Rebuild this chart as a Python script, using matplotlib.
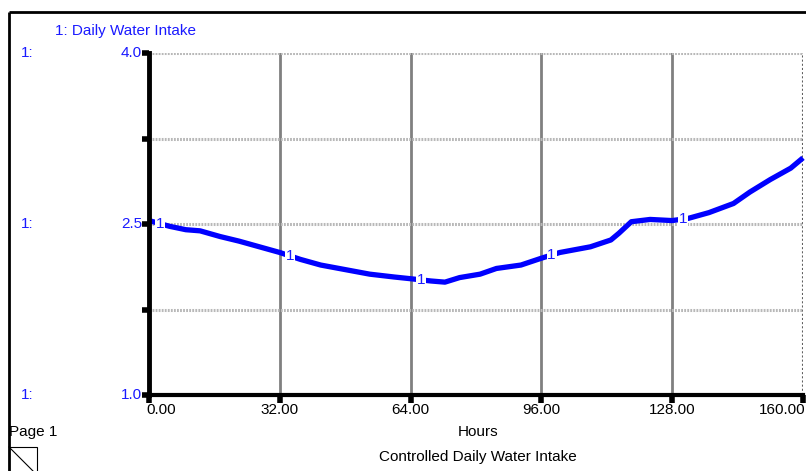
import matplotlib
matplotlib.use("Agg")
import matplotlib.pyplot as plt
from matplotlib.patches import Rectangle
import numpy as np

plt.rcParams['font.family'] = ['Liberation Sans', 'DejaVu Sans']

# ---- data ----
hours = [0, 5, 9, 12.5, 17.4, 22, 26, 32, 37, 42, 48, 54, 60, 64, 69, 72.4, 76, 81, 85,
         91, 96, 100.5, 108, 113, 115, 118, 122.6, 128, 132, 137, 143, 147, 152, 157, 160]
intake = [2.53, 2.48, 2.45, 2.44, 2.39, 2.35, 2.31, 2.25, 2.19, 2.14, 2.10, 2.06, 2.035, 2.02,
          2.00, 1.99, 2.03, 2.06, 2.11, 2.14, 2.20, 2.25, 2.30, 2.36, 2.42, 2.52, 2.54, 2.53,
          2.55, 2.60, 2.68, 2.78, 2.89, 2.99, 3.08]
label_hours = [2.7, 34.5, 66.5, 98.5, 130.6]
x_ticks = [0, 32, 64, 96, 128, 160]
x_tick_labels = ["0.00", "32.00", "64.00", "96.00", "128.00", "160.00"]
y_ticks = [1.0, 1.75, 2.5, 3.25, 4.0]
y_labels = {4.0: "4.0", 2.5: "2.5", 1.0: "1.0"}
series_name = "1: Daily Water Intake"
x_title = "Hours"
chart_title = "Controlled Daily Water Intake"

W, H = 806, 471
fig = plt.figure(figsize=(W / 100, H / 100), dpi=100)

def fx(px):
    return px / W

def fy(py):
    return 1 - py / H

blue = '#1a1aff'
lineblue = '#0000ff'
FS = 11

# outer frame
frame = fig.add_axes([0, 0, 1, 1])
frame.set_xlim(0, W)
frame.set_ylim(H, 0)
frame.axis('off')
frame.plot([9, 9], [12, H + 5], color='black', lw=2, solid_capstyle='butt')
frame.plot([9, W + 5], [12, 12], color='black', lw=2, solid_capstyle='butt')
# small icon
frame.add_patch(Rectangle((9, 447), 28, 28, fill=False, edgecolor='black', lw=0.8))
frame.plot([9, 37], [447, 475], color='black', lw=0.8)

# main axes
L, R, T, B = 149, 803, 53, 395
ax = fig.add_axes([fx(L), fy(B), fx(R) - fx(L), fy(T) - fy(B)])
ax.set_xlim(0, 160)
ax.set_ylim(1.0, 4.0)
for s in ['top', 'right']:
    ax.spines[s].set_visible(False)
ax.spines['left'].set_linewidth(3.5)
ax.spines['bottom'].set_linewidth(3)
ax.spines['left'].set_zorder(5)
ax.spines['bottom'].set_zorder(5)

# grid
for xv in x_ticks[1:-1]:
    ax.axvline(xv, color='#808080', lw=2, zorder=1)
ax.axvline(160, color='#606060', lw=1.5, ls=(0, (1, 1)), zorder=1)
for yv in y_ticks[1:]:
    ax.axhline(yv, color='#b8b8b8', lw=2.2, ls=(0, (0.6, 0.4)), zorder=1)

ax.set_xticks(x_ticks)
ax.set_xticklabels([])
ax.set_yticks(y_ticks)
ax.set_yticklabels([])
ax.tick_params(axis='x', direction='out', length=6, width=4, color='black')
ax.tick_params(axis='y', direction='out', length=5, width=4, color='black')

# series
ax.plot(hours, intake, color=lineblue, lw=3.8, solid_capstyle='butt', zorder=3, clip_on=False)
for lh in label_hours:
    yv = float(np.interp(lh, hours, intake))
    ax.text(lh, yv, "1", color=blue, fontsize=FS, ha='center', va='center', zorder=4,
            bbox=dict(facecolor='white', edgecolor='none', pad=0.6))

# x tick labels
for xv, lab in zip(x_ticks, x_tick_labels):
    px = L + (R - L) * xv / 160
    if xv == 0:
        fig.text(fx(px - 3), fy(410), lab, ha='left', va='center', fontsize=FS)
    elif xv == 160:
        fig.text(fx(806), fy(410), lab, ha='right', va='center', fontsize=FS)
    else:
        fig.text(fx(px), fy(410), lab, ha='center', va='center', fontsize=FS)

# y labels
for yv, lab in y_labels.items():
    py = B - (B - T) * (yv - 1.0) / 3.0
    fig.text(fx(142), fy(py), lab, ha='right', va='center', fontsize=FS, color=blue)
    fig.text(fx(21), fy(py), "1:", ha='left', va='center', fontsize=FS, color=blue)

fig.text(fx(55), fy(31), series_name, ha='left', va='center', fontsize=FS, color=blue)
fig.text(fx(478), fy(432), x_title, ha='center', va='center', fontsize=FS)
fig.text(fx(9), fy(432), "Page 1", ha='left', va='center', fontsize=FS)
fig.text(fx(478), fy(457), chart_title, ha='center', va='center', fontsize=FS)

fig.savefig("out.png", dpi=100)
